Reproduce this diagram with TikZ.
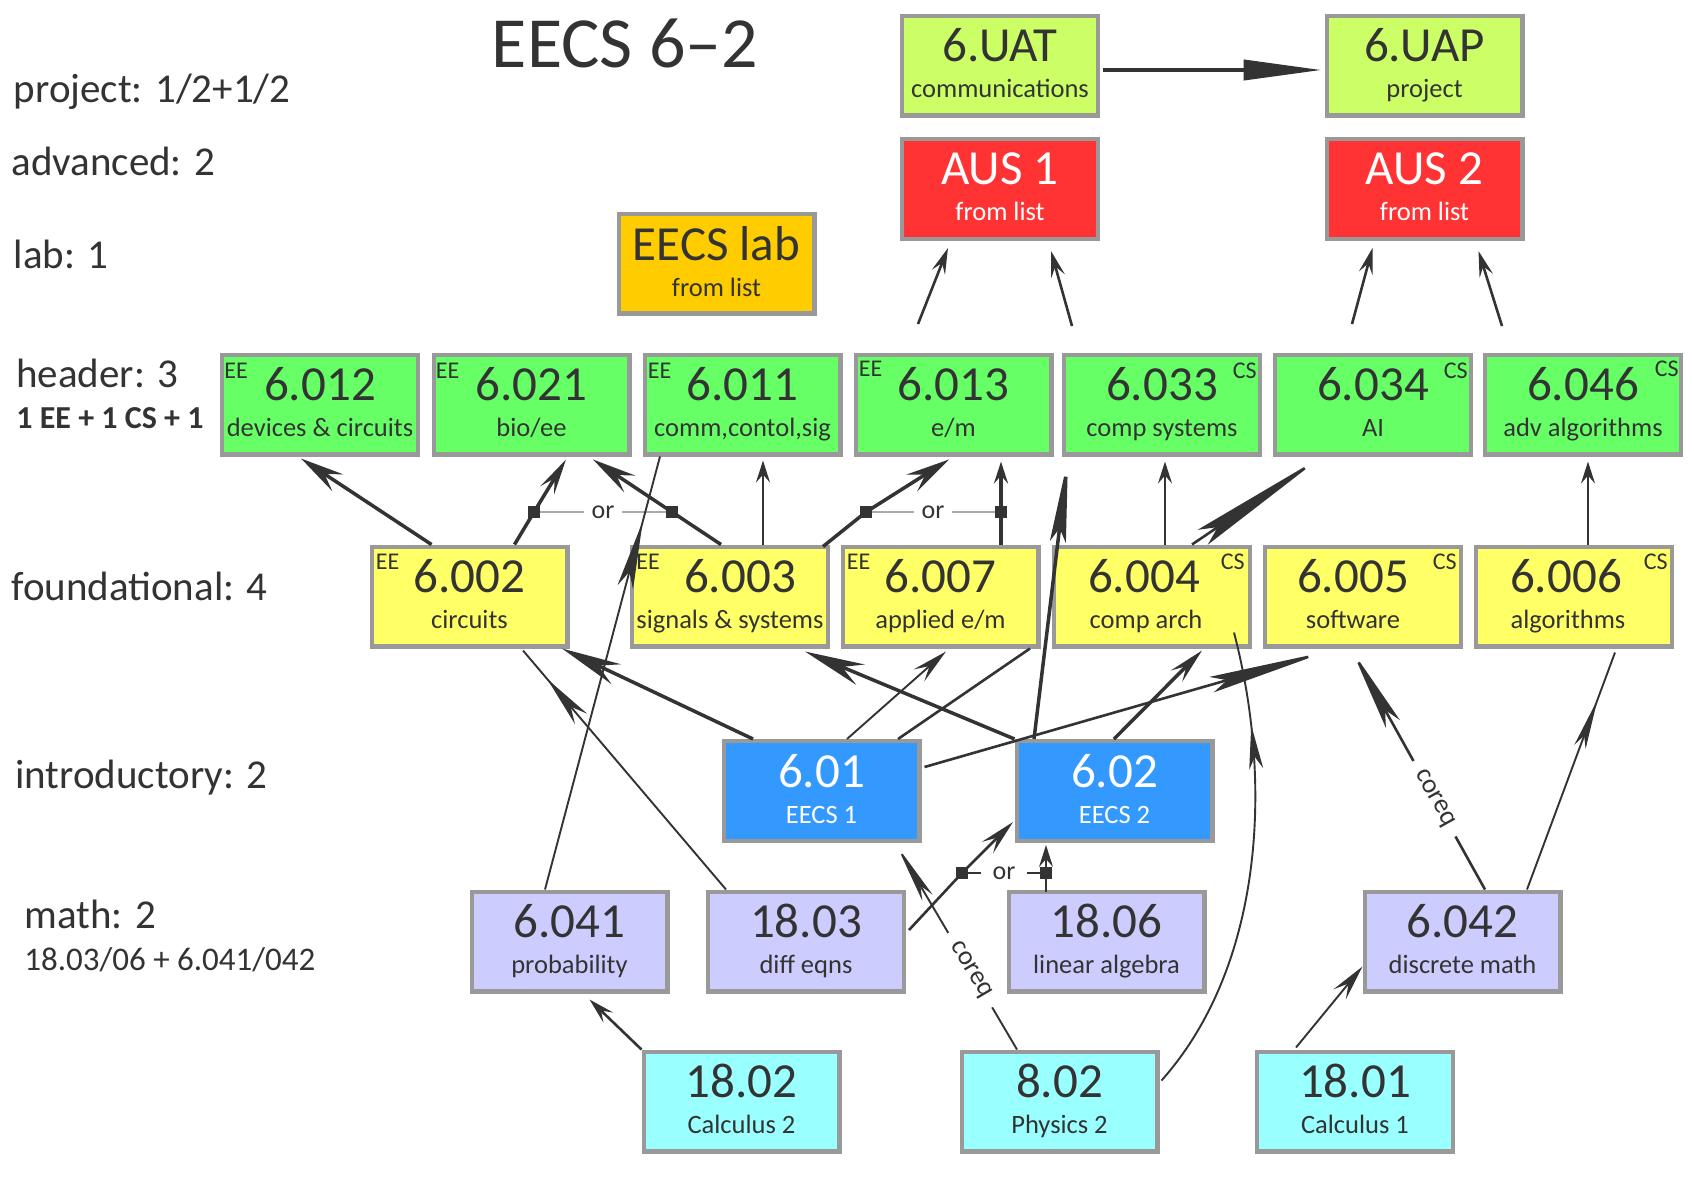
\documentclass[tikz,border=0pt]{standalone}
\usepackage{fontspec}
\setmainfont{Carlito}
\usetikzlibrary{arrows.meta,calc,decorations.markings}
\definecolor{boxgray}{HTML}{999999}
\definecolor{txt}{HTML}{333333}
\definecolor{lineC}{HTML}{333333}
\definecolor{orgrayc}{HTML}{AAAAAA}
\definecolor{cGreen}{HTML}{66FF66}
\definecolor{cYellow}{HTML}{FFFF66}
\definecolor{cBlue}{HTML}{3399FF}
\definecolor{cLav}{HTML}{CCCCFF}
\definecolor{cCyan}{HTML}{99FFFF}
\definecolor{cLime}{HTML}{CCFF66}
\definecolor{cRed}{HTML}{FF3333}
\definecolor{cOrange}{HTML}{FFCC00}
\newcommand\crs[2]{{\fontsize{24.5}{24.5}\selectfont #1}\\#2\vphantom{gy}}
\tikzset{
  TB/.tip={Stealth[length=22pt,width=10pt,inset=8pt]},
  TM/.tip={Stealth[length=18pt,width=8pt,inset=7pt]},
  TS/.tip={Stealth[length=11pt,width=7pt,inset=4pt]},
  TA/.tip={Stealth[length=13pt,width=7pt,inset=5pt]},
  TU/.tip={Triangle[length=39pt,width=10pt]},
  WA/.tip={Stealth[length=72pt,width=9pt,inset=9pt]},
  WB/.tip={Stealth[length=60pt,width=8pt,inset=8pt]},
  WC/.tip={Stealth[length=42pt,width=8pt,inset=7pt]},
  WD/.tip={Stealth[length=30pt,width=11pt,inset=10pt]},
  WE/.tip={Stealth[length=34pt,width=8pt,inset=8pt]},
  WF/.tip={Stealth[length=26pt,width=8pt,inset=8pt]},
  WG/.tip={Stealth[length=30pt,width=6pt,inset=7pt]},
  WH/.tip={Stealth[length=42pt,width=8pt,inset=8pt]},
  WI/.tip={Stealth[length=25pt,width=6pt,inset=6pt]},
  WJ/.tip={Stealth[length=22pt,width=7pt,inset=6pt]},
  cbox/.style={draw=boxgray, line width=2.2pt, minimum width=97.8pt, minimum height=49.8pt,
    inner sep=0pt, align=center, text=txt, font=\fontsize{13.25}{18}\selectfont},
  tagL/.style={anchor=north west, inner sep=0pt, text=txt, font=\fontsize{12}{12}\selectfont},
  tagR/.style={anchor=north east, inner sep=0pt, text=txt, font=\fontsize{12}{12}\selectfont},
  lbl/.style={anchor=base west, inner sep=0pt, text=txt, font=\fontsize{20.5}{20.5}\selectfont},
  ln/.style={draw=lineC},
  lwA/.style={line width=1.75pt},
  lwB/.style={line width=1.3pt},
  lwC/.style={line width=0.95pt},
  amid/.style 2 args={postaction={decorate,decoration={markings,mark=at position #1 with {\arrow{#2}}}}},
  sqr/.style={fill=lineC, minimum size=6pt, inner sep=0pt},
  orlab/.style={fill=white, inner xsep=4pt, inner ysep=1pt, text=txt, font=\fontsize{13}{13}\selectfont},
  orline/.style={draw=orgrayc, line width=0.7pt},
  coreqlab/.style={sloped, fill=white, inner xsep=6pt, inner ysep=1pt, text=txt, font=\fontsize{13.5}{13.5}\selectfont},
}
\begin{document}
\begin{tikzpicture}[x=0.5pt,y=-0.5pt]
\fill[white] (0,0) rectangle (1694,1180);
\useasboundingbox (0,0) rectangle (1694,1180);

% ---- left labels and title
\node[anchor=base, inner sep=0pt, text=txt, font=\fontsize{36}{36}\selectfont] (title) at (625,67) {EECS 6--2};
\node[lbl] (lproj) at (13.5,102) {project: 1/2+1/2};
\node[lbl] (ladv) at (11,175) {advanced: 2};
\node[lbl] (llab) at (13.5,268) {lab: 1};
\node[lbl] (lhdr) at (16,387) {header: 3};
\node[lbl, font=\fontsize{16}{16}\selectfont\bfseries] (lhdr2) at (16,428) {1 EE + 1 CS + 1};
\node[lbl] (lfound) at (11,600) {foundational: 4};
\node[lbl] (lintro) at (15,788) {introductory: 2};
\node[lbl] (lmath) at (24,928) {math: 2};
\node[lbl, font=\fontsize{16.5}{16.5}\selectfont] (lmath2) at (24,970) {18.03/06 + 6.041/042};

% ---- boxes
\node[cbox, fill=cLime] (uat) at (1000,65.5) {\crs{6.UAT}{communications}};
\node[cbox, fill=cLime] (uap) at (1424.5,65.5) {\crs{6.UAP}{project}};
\node[cbox, fill=cRed, text=white] (aus1) at (1000,189) {\crs{AUS 1}{from list}};
\node[cbox, fill=cRed, text=white] (aus2) at (1424.5,189) {\crs{AUS 2}{from list}};
\node[cbox, fill=cOrange] (lab) at (716.5,263.5) {\crs{EECS lab}{from list}};

\node[cbox, fill=cGreen] (h6012) at (320,404.5) {\crs{6.012}{devices \& circuits}};
\node[cbox, fill=cGreen] (h6021) at (531.5,404.5) {\crs{6.021}{bio/ee}};
\node[cbox, fill=cGreen] (h6011) at (742.5,404.5) {\crs{6.011}{comm,contol,sig}};
\node[cbox, fill=cGreen] (h6013) at (953.5,404.5) {\crs{6.013}{e/m}};
\node[cbox, fill=cGreen] (h6033) at (1162,404.5) {\crs{6.033}{comp systems}};
\node[cbox, fill=cGreen] (h6034) at (1373,404.5) {\crs{6.034}{AI}};
\node[cbox, fill=cGreen] (h6046) at (1583,404.5) {\crs{6.046}{adv algorithms}};

\node[cbox, fill=cYellow] (f6002) at (469.5,596.5) {\crs{6.002}{circuits}};
\node[cbox, fill=cYellow] (f6003) at (730,596.5) {\crs{\kern10pt 6.003}{signals \& systems}};
\node[cbox, fill=cYellow] (f6007) at (940.5,596.5) {\crs{6.007}{applied e/m}};
\node[cbox, fill=cYellow] (f6004) at (1152,596.5) {\crs{6.004\kern8pt}{comp arch\kern6pt}};
\node[cbox, fill=cYellow] (f6005) at (1363,596.5) {\crs{6.005\kern10pt}{software\kern10pt}};
\node[cbox, fill=cYellow] (f6006) at (1574,596.5) {\crs{6.006\kern8pt}{algorithms\kern6pt}};

\node[cbox, fill=cBlue, text=white] (i601) at (821.5,791) {\crs{6.01}{EECS 1}};
\node[cbox, fill=cBlue, text=white] (i602) at (1114.5,791) {\crs{6.02}{EECS 2}};

\node[cbox, fill=cLav] (m6041) at (569.5,941.5) {\crs{6.041}{probability}};
\node[cbox, fill=cLav] (m1803) at (806,941.5) {\crs{18.03}{diff eqns}};
\node[cbox, fill=cLav] (m1806) at (1106.5,941.5) {\crs{18.06}{linear algebra}};
\node[cbox, fill=cLav] (m6042) at (1462.5,941.5) {\crs{6.042}{discrete math}};

\node[cbox, fill=cCyan] (b1802) at (741.5,1101.5) {\crs{18.02}{Calculus 2}};
\node[cbox, fill=cCyan] (b802) at (1059.5,1101.5) {\crs{8.02}{Physics 2}};
\node[cbox, fill=cCyan] (b1801) at (1355,1101.5) {\crs{18.01}{Calculus 1}};

% ---- EE / CS tags
\node[tagL] (t1) at ($(h6012.north west)+(4,10)$) {EE};
\node[tagL] (t2) at ($(h6021.north west)+(4,10)$) {EE};
\node[tagL] (t3) at ($(h6011.north west)+(5,10)$) {EE};
\node[tagL] (t4) at ($(h6013.north west)+(5,8)$) {EE};
\node[tagR] (t5) at ($(h6033.north east)+(-5,10)$) {CS};
\node[tagR] (t6) at ($(h6034.north east)+(-5,10)$) {CS};
\node[tagR] (t7) at ($(h6046.north east)+(-4,8)$) {CS};
\node[tagL] (t8) at ($(f6002.north west)+(6,9)$) {EE};
\node[tagL] (t9) at ($(f6003.north west)+(6,9)$) {EE};
\node[tagL] (t10) at ($(f6007.north west)+(6,9)$) {EE};
\node[tagR] (t11) at ($(f6004.north east)+(-7,9)$) {CS};
\node[tagR] (t12) at ($(f6005.north east)+(-6,9)$) {CS};
\node[tagR] (t13) at ($(f6006.north east)+(-6,9)$) {CS};

% ---- "or" junctions
\node[sqr] (sqA) at (534,512) {};
\node[sqr] (sqB) at (672,512) {};
\node[sqr] (sqC) at (866,512) {};
\node[sqr] (sqD) at (1001,512) {};
\node[sqr] (sqF) at (962,873) {};
\node[sqr] (sqE) at (1046,873) {};
\draw[orline] (sqA) -- (sqB);
\node[orlab] (orA) at (603,512) {or};
\draw[orline] (sqC) -- (sqD);
\node[orlab] (orB) at (933,512) {or};
\draw[ln,lwB] (sqF) -- (sqE);
\node[orlab, inner xsep=6pt] (orC) at (1004,873) {or};

% ---- free ends under AUS boxes
\coordinate (fr1) at (918,324);
\coordinate (fr2) at (1072,326);
\coordinate (fr3) at (1352,324);
\coordinate (fr4) at (1502,326);

% ---- connectors
\draw[ln, line width=2pt, -TU] ($(uat.east)+(3,4.5)$) -- ($(uap.west)+(-3,4.5)$);
\draw[ln,lwB,-TA] (fr1) -- ($(aus1.south)+(-52,7)$);
\draw[ln,lwB,-TA] (fr2) -- ($(aus1.south)+(51,10)$);
\draw[ln,lwB,-TA] (fr3) -- ($(aus2.south)+(-52,7)$);
\draw[ln,lwB,-TA] (fr4) -- ($(aus2.south)+(54,10)$);

\draw[ln,lwA,-TB] ($(f6002.north)+(-38,0)$) -- ($(h6012.south)+(-19,2)$);
\draw[ln,lwA,-TM] ($(f6002.north)+(45,0)$) -- (sqA.center) -- ($(h6021.south)+(34.5,3)$);
\draw[ln,lwA,-TB] ($(f6003.north)+(-9,0)$) -- (sqB.center) -- ($(h6021.south)+(61.5,3)$);
\draw[ln,lwB,-TS] ($(f6003.north)+(33,0)$) -- ($(h6011.south)+(20.5,4)$);
\draw[ln,lwA,-TB] ($(f6003.north)+(93,2)$) -- (sqC.center) -- ($(h6013.south)+(-4.5,3)$);
\draw[ln,lwA,-TS] ($(f6007.north)+(60.5,0)$) -- (sqD.center) -- ($(h6013.south)+(47.5,5)$);
\draw[ln,lwB,-TS] ($(f6004.north)+(13,0)$) -- ($(h6033.south)+(3,5)$);
\draw[ln,lwB,-WA] ($(f6004.north)+(40,0)$) -- ($(h6034.south)+(-51,0)$);
\draw[ln,lwB,-TS] ($(f6006.north)+(14,0)$) -- ($(h6046.south)+(5,5)$);

\draw[ln,lwC,amid={0.85}{WE}] ($(m6041.north)+(-24.5,0)$) -- ($(h6011.south)+(-82.5,0)$);
\draw[ln,lwC,amid={0.88}{WF}] ($(m1803.north)+(-80,0)$) -- ($(f6002.south)+(53.5,2)$);
\draw[ln,lwA,-WD] ($(i601.north)+(-68.5,0)$) -- ($(f6002.south)+(92.5,0)$);
\draw[ln,lwC,-TM] ($(i601.north)+(25.5,0)$) -- ($(f6007.south)+(5.5,3)$);
\draw[ln,lwB] ($(i601.north)+(76.5,0)$) -- ($(f6007.south)+(89.5,0)$);
\draw[ln,lwB,-WB] ($(i601.east)+(3,-24)$) -- ($(f6005.south)+(-36,3)$);
\draw[ln,lwA,-WD] (i602.north west) -- ($(f6003.south)+(75,3)$);
\draw[ln,lwA,-WC] ($(i602.north)+(-80.5,0)$) -- ($(h6033.south)+(-94,2)$);
\draw[ln,lwA,-TM] ($(i602.north)+(-0.5,0)$) -- ($(f6004.south)+(50,2)$);
\draw[ln,lwC,-TS] ($(m1806.north)+(-60.5,2)$) -- (sqE.center) -- ($(i602.south)+(-68.5,2)$);
\draw[ln,lwB,-TM] ($(m1803.east)+(3,-11.5)$) -- (sqF.center) -- ($(i602.west)+(-1.5,31)$);
\draw[ln,lwC,-WG] ($(b802.north)+(-42.5,0)$) -- node[coreqlab,pos=0.39] (cq1) {coreq} ($(i601.south)+(75.5,3)$);
\draw[ln,lwB,-WH] ($(m6042.north)+(22.5,0)$) -- node[coreqlab,pos=0.38] (cq2) {coreq} ($(f6005.south)+(-11,2)$);
\draw[ln,lwC,amid={0.8}{WI}] ($(m6042.north)+(64.5,0)$) -- ($(f6006.south)+(41,4)$);
\draw[ln,lwC,-TM] ($(b1801.north)+(-59,-2)$) -- ($(m6042.west)+(0,25)$);
\draw[ln,lwB,-TA] (b1802.north west) -- ($(m6041.south)+(20,6)$);
\draw[ln,lwC,amid={0.8}{WJ}] ($(b802.east)+(2,-21)$) .. controls (1260,970) and (1275,790) .. ($(f6004.south)+(82,-16)$);
\end{tikzpicture}
\end{document}
